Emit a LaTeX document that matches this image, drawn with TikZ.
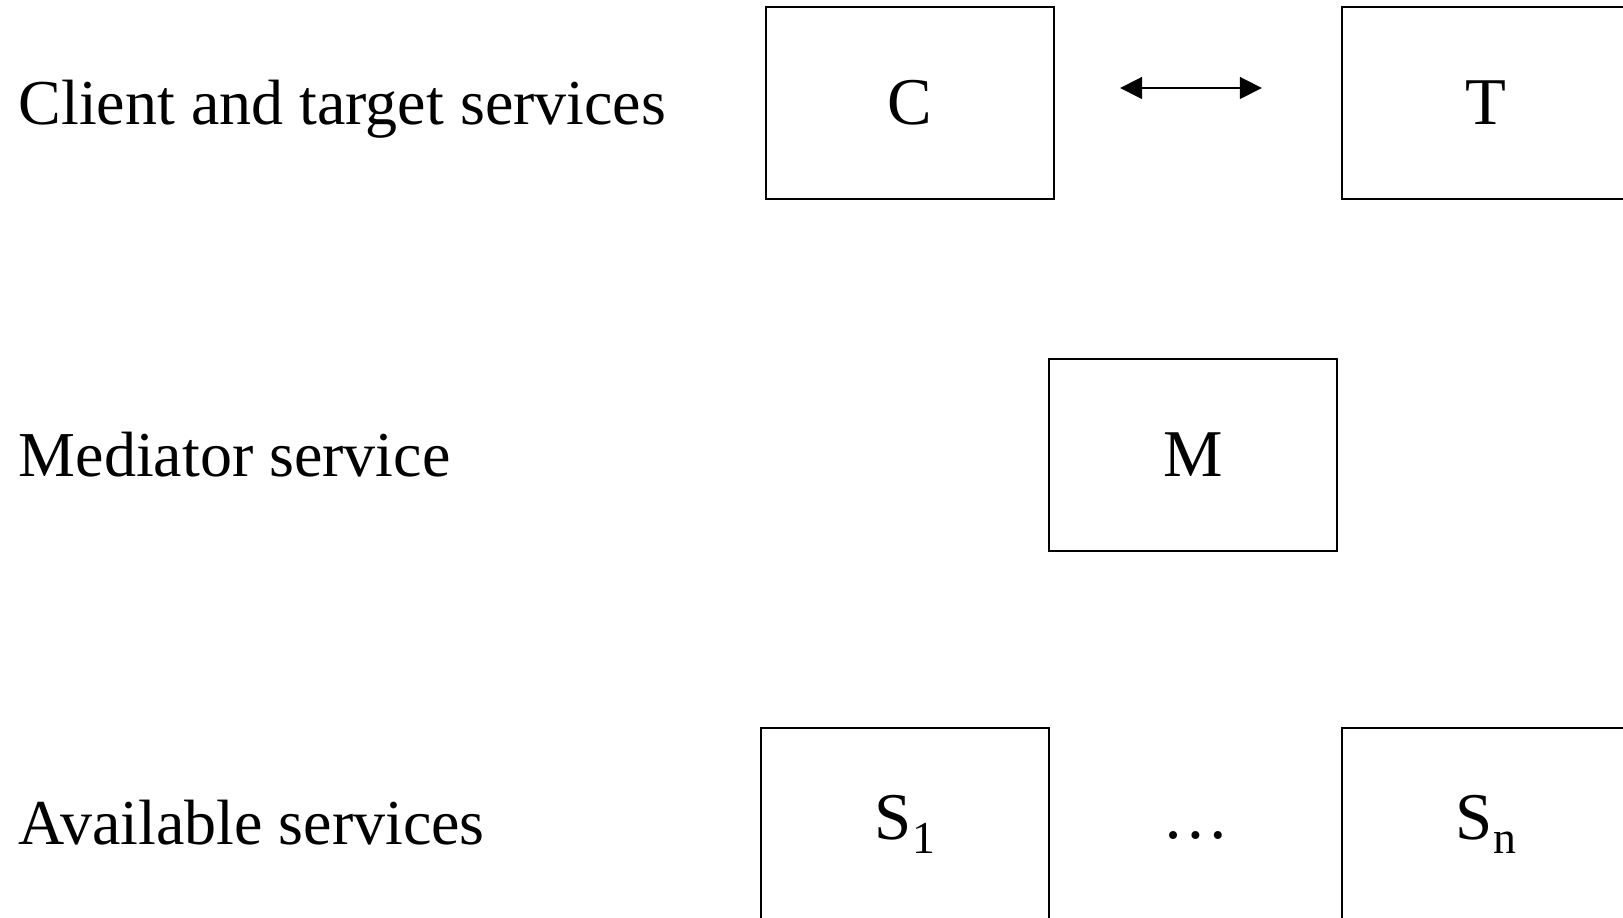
\documentclass[tikz,border=0pt]{standalone}
\usepackage{fontspec}
\setmainfont{Liberation Serif}
\usepackage{tikz}
\usetikzlibrary{arrows.meta}

\newcommand{\svcsub}[1]{\raisebox{-0.45ex}{\fontsize{13}{15}\selectfont #1}}

\begin{document}
\begin{tikzpicture}[x=0.01cm,y=-0.01cm,
		svcbox/.style={draw=black,line width=0.6pt,minimum width=2.88cm,minimum height=1.92cm,inner sep=0pt,font=\fontsize{19}{23}\selectfont},
		layer/.style={anchor=base west,inner sep=0pt,font=\fontsize{18.2}{22}\selectfont}]
		\useasboundingbox (0,0) rectangle (1623,918);
		\node[layer] (lclient) at (18,124) {Client and target services};
		\node[layer] (lmed) at (18,476) {Mediator service};
		\node[layer] (lavail) at (18,844) {Available services};
		\node[svcbox] (client) at (910,103) {C};
		\node[svcbox] (target) at (1486,103) {T};
		\draw[{Triangle[length=0.22cm,width=0.22cm]}-{Triangle[length=0.22cm,width=0.22cm]},line width=0.5pt,shorten <=0.65cm,shorten >=0.79cm] ([yshift=0.15cm]client.east) -- ([yshift=0.15cm]target.west);
		\node[svcbox] (med) at (1193,455) {M};
		\node[svcbox] (s1) at (905,824) {S\svcsub{1}};
		\node[svcbox] (sn) at (1486,824) {S\svcsub{n}};
		\node[inner sep=0pt,font=\fontsize{19}{23}\selectfont] (dots) at (1196,835) {\ldots};
	\end{tikzpicture}
\end{document}
